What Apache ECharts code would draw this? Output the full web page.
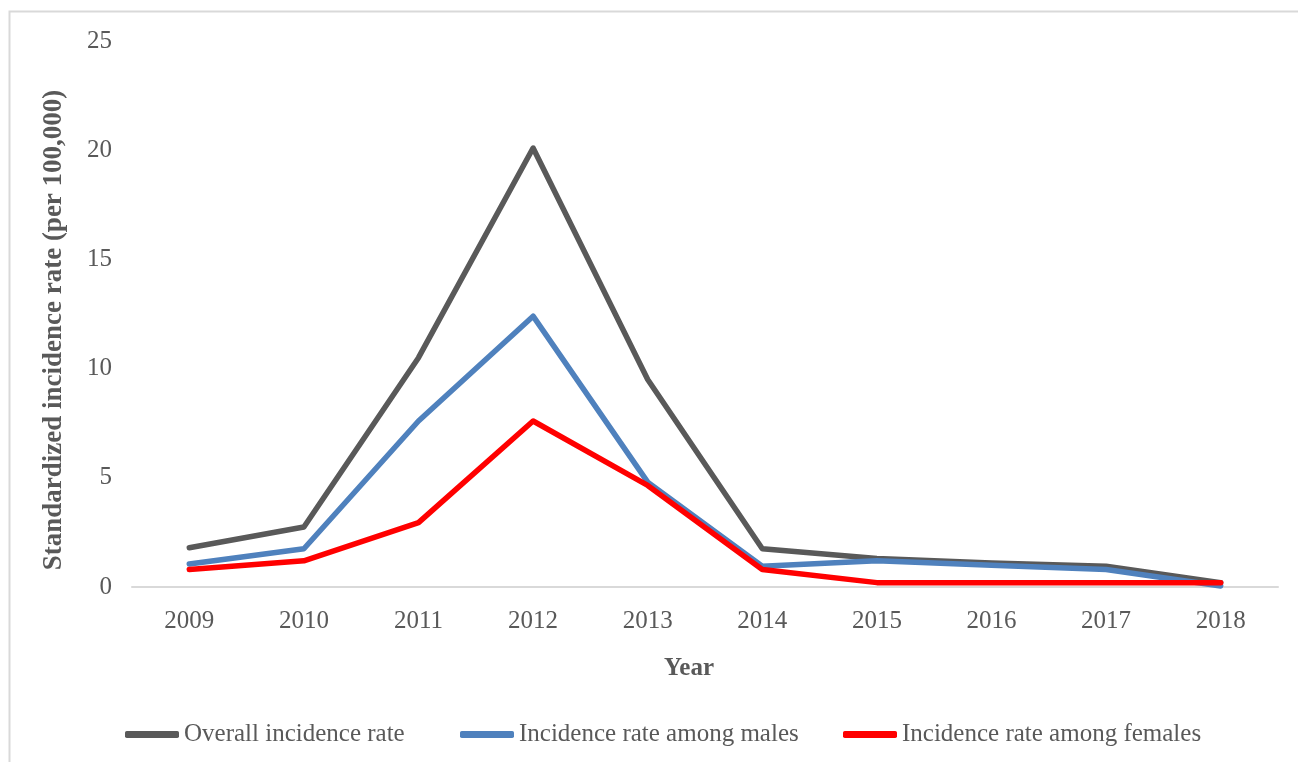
<!DOCTYPE html>
<html>
<head>
<meta charset="utf-8">
<script src="https://cdn.jsdelivr.net/npm/echarts@6/dist/echarts.min.js"></script>
<style>
  html, body { margin: 0; padding: 0; background: #ffffff; }
  #chart { width: 1298px; height: 762px; }
</style>
</head>
<body>
<div id="chart"></div>
<script>
// Incidence rate per 100,000 by year
const years = ['2009', '2010', '2011', '2012', '2013', '2014', '2015', '2016', '2017', '2018'];
const overallRate = [1.8, 2.75, 10.5, 20.1, 9.5, 1.75, 1.3, 1.1, 0.95, 0.2];
const maleRate    = [1.05, 1.75, 7.6, 12.4, 4.8, 0.95, 1.2, 1.0, 0.8, 0.05];
const femaleRate  = [0.8, 1.2, 2.95, 7.6, 4.65, 0.8, 0.2, 0.2, 0.2, 0.2];

const seriesNames = ['Overall incidence rate', 'Incidence rate among males', 'Incidence rate among females'];
const seriesColors = ['#595959', '#4F81BD', '#FF0000'];
const legendLefts = [125, 460, 843];

const serif = '"Liberation Serif", "Times New Roman", serif';
const textGray = '#595959';

const chart = echarts.init(document.getElementById('chart'), null, { renderer: 'canvas' });

function lineSeries(name, data, color) {
  return {
    name: name,
    type: 'line',
    data: data,
    symbol: 'none',
    smooth: false,
    lineStyle: { color: color, width: 5.5, cap: 'round', join: 'round' },
    itemStyle: { color: color },
    emphasis: { disabled: true }
  };
}

// One legend entry per component so each keeps its own horizontal slot
const legends = seriesNames.map((name, i) => ({
  left: legendLefts[i],
  top: 722,
  padding: 0,
  itemWidth: 54,
  itemHeight: 7,
  icon: 'roundRect',
  textStyle: { fontFamily: serif, fontSize: 25, color: textGray },
  data: [name]
}));

chart.setOption({
  animation: false,
  backgroundColor: '#ffffff',
  graphic: [{
    type: 'rect',
    shape: { x: 9.5, y: 11.5, width: 1400, height: 900 },
    style: { fill: null, stroke: '#d9d9d9', lineWidth: 2 },
    silent: true,
    z: -10
  }],
  grid: { left: 132, right: 20, top: 41, bottom: 175 },
  legend: legends,
  xAxis: {
    type: 'category',
    data: years,
    boundaryGap: true,
    axisLine: { lineStyle: { color: '#d9d9d9', width: 2 } },
    axisTick: { show: false },
    axisLabel: { fontFamily: serif, fontSize: 25, color: textGray, margin: 22 },
    name: 'Year',
    nameLocation: 'middle',
    nameGap: 69,
    nameTextStyle: { fontFamily: serif, fontSize: 25, fontWeight: 'bold', color: textGray, padding: [0, 32, 0, 0] }
  },
  yAxis: {
    type: 'value',
    min: 0,
    max: 25,
    interval: 5,
    splitLine: { show: false },
    axisLine: { show: false },
    axisTick: { show: false },
    axisLabel: { fontFamily: serif, fontSize: 25, color: textGray, margin: 20 },
    name: 'Standardized incidence rate (per 100,000)',
    nameLocation: 'middle',
    nameGap: 64,
    nameTextStyle: { fontFamily: serif, fontSize: 27, fontWeight: 'bold', color: textGray, padding: [0, 32, 0, 0] }
  },
  series: [
    lineSeries(seriesNames[0], overallRate, seriesColors[0]),
    lineSeries(seriesNames[1], maleRate, seriesColors[1]),
    lineSeries(seriesNames[2], femaleRate, seriesColors[2])
  ]
});
</script>
</body>
</html>
